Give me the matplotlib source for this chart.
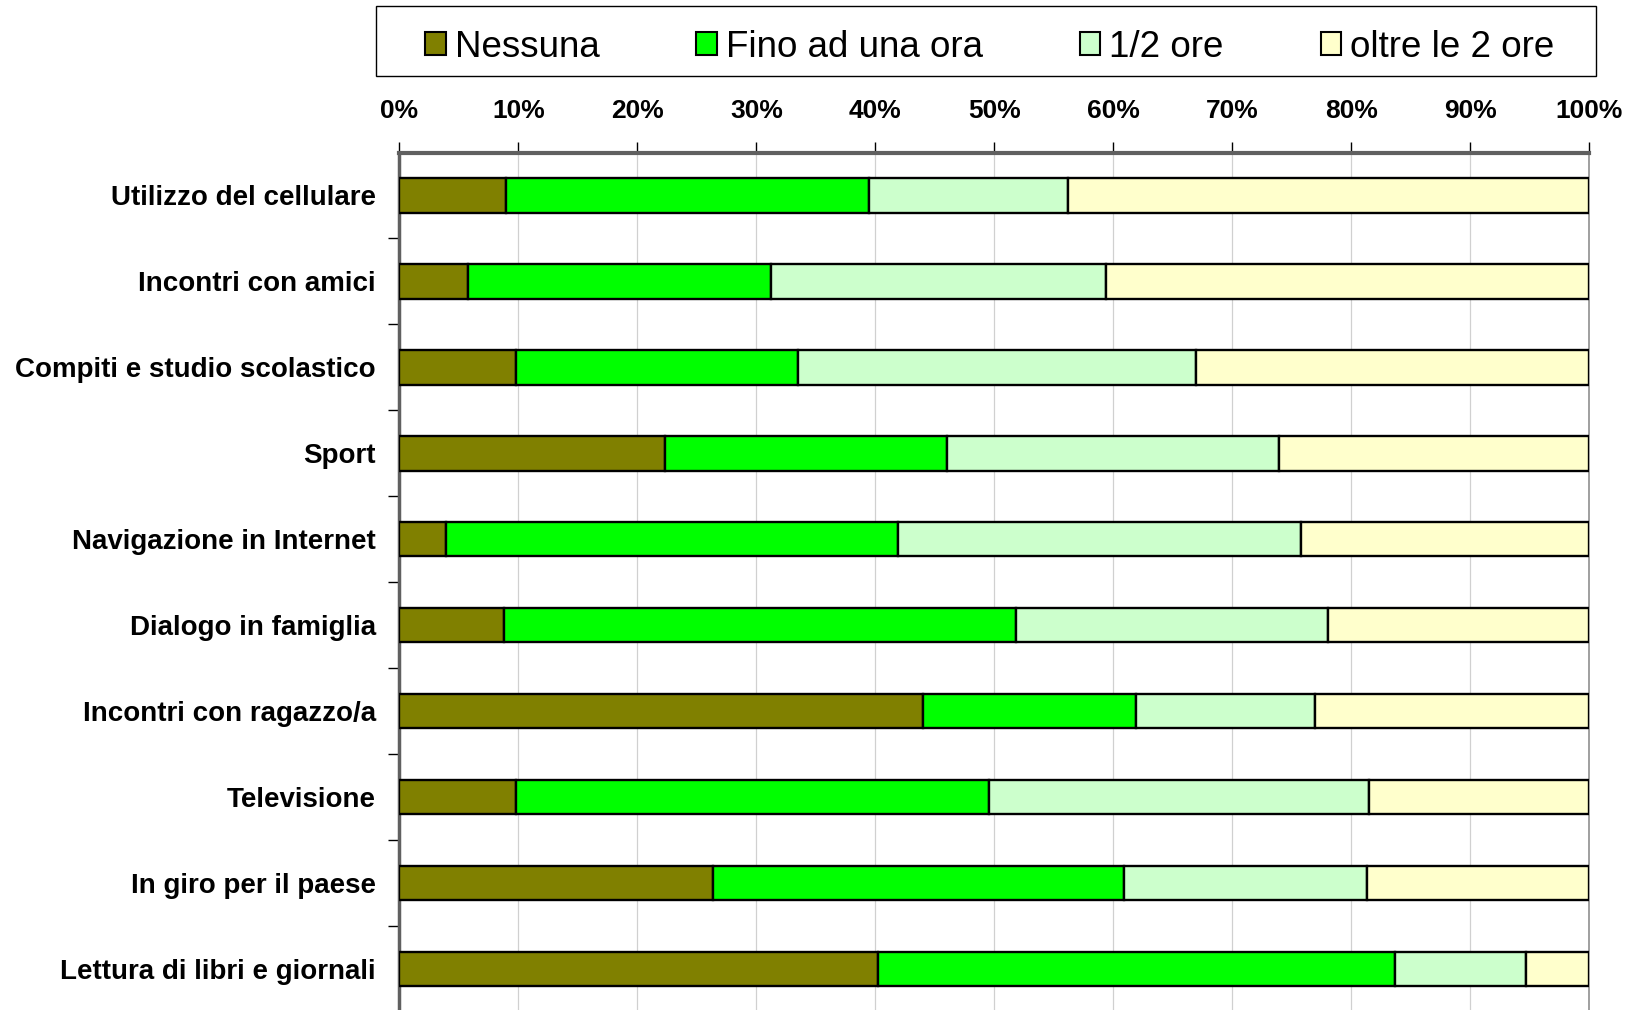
import numpy as np
import matplotlib
matplotlib.use("Agg")
import matplotlib.pyplot as plt
from matplotlib.patches import Patch, Rectangle

plt.rcParams['font.family'] = ['Liberation Sans', 'DejaVu Sans']

# dati (percentuali)
categorie = ['Utilizzo del cellulare', 'Incontri con amici', 'Compiti e studio scolastico',
             'Sport', 'Navigazione in Internet', 'Dialogo in famiglia',
             'Incontri con ragazzo/a', 'Televisione', 'In giro per il paese',
             'Lettura di libri e giornali']
serie = ['Nessuna', 'Fino ad una ora', '1/2 ore', 'oltre le 2 ore']
nessuna = [9.0, 5.8, 9.8, 22.3, 3.9, 8.8, 44.0, 9.8, 26.4, 40.2]
fino_ora = [30.5, 25.4, 23.7, 23.7, 38.0, 43.0, 17.9, 39.8, 34.5, 43.5]
uno_due = [16.7, 28.2, 33.5, 27.9, 33.9, 26.3, 15.1, 31.9, 20.4, 11.0]
oltre_due = [43.8, 40.6, 33.0, 26.1, 24.2, 21.9, 23.0, 18.5, 18.7, 5.3]
colori = ['#808000', '#00FF00', '#CCFFCC', '#FFFFCC']

fig = plt.figure(figsize=(16.39, 10.10), dpi=100)
ax = fig.add_axes([0.2437, -0.002, 0.7258, 0.851])

y = np.arange(len(categorie))
left = np.zeros(len(categorie))
for vals, col in zip([nessuna, fino_ora, uno_due, oltre_due], colori):
    ax.barh(y, vals, left=left, height=0.40, color=col, edgecolor='black',
            linewidth=1.7, zorder=3)
    left += np.array(vals)

ax.set_xlim(0, 100)
ax.set_ylim(len(categorie) - 0.5, -0.5)

# asse x in alto
ax.xaxis.tick_top()
ax.set_xticks(np.arange(0, 101, 10))
ax.set_xticklabels([f'{v}%' for v in range(0, 101, 10)], fontsize=19, fontweight='bold')
ax.tick_params(axis='x', direction='out', length=8, width=1, pad=13.5, color='black')
ax.grid(axis='x', color='#d0d0d0', linewidth=0.9, zorder=0)

# asse y
ax.set_yticks(y)
ax.set_yticklabels(categorie, fontsize=20, fontweight='bold')
ax.tick_params(axis='y', which='major', length=0, pad=17)
ax.set_yticks(np.arange(0.5, len(categorie) - 0.5, 1), minor=True)
ax.tick_params(axis='y', which='minor', direction='out', length=8, width=1, color='black')

ax.spines['bottom'].set_visible(False)
ax.spines['top'].set_color('#606060')
ax.spines['top'].set_linewidth(3)
ax.spines['left'].set_color('#606060')
ax.spines['left'].set_linewidth(2.5)
ax.spines['right'].set_color('#909090')
ax.spines['right'].set_linewidth(1.2)

# legenda con cornice separata
fig.patches.append(Rectangle((0.2296, 0.9245), 0.7443, 0.0693, transform=fig.transFigure,
                             facecolor='white', edgecolor='black', linewidth=1.0))
handles = [Patch(facecolor=c, edgecolor='black', linewidth=1.5) for c in colori]
fig.legend(handles, serie, loc='center left', mode='expand', ncol=4,
           bbox_to_anchor=(0.2595, 0.9234, 0.6888, 0.06), fontsize=26.5,
           frameon=False, borderaxespad=0, borderpad=0,
           handlelength=0.55, handleheight=0.55, handletextpad=0.25)

fig.savefig('out.png', dpi=100)
